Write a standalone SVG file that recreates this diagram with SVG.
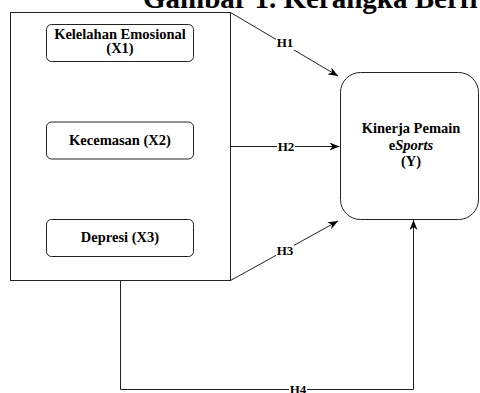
<svg xmlns="http://www.w3.org/2000/svg" width="480" height="393" viewBox="0 0 480 393">
<defs>
<style>
text{font-family:'Liberation Serif','Times New Roman',serif;font-weight:bold;fill:#000}
.t{text-anchor:middle}
.n{font-size:14.5px}
.lb{font-size:13px}
.box{fill:#fff;stroke:#222;stroke-width:1}
.edge{fill:none;stroke:#222;stroke-width:1}
.bg{fill:#fff}
</style>
<marker id="arr" viewBox="0 0 10 8" refX="10" refY="4" markerWidth="10" markerHeight="8" markerUnits="userSpaceOnUse" orient="auto">
<path d="M0,0 L10,4 L0,8 L3,4 z" fill="#000"/>
</marker>
</defs>
<rect width="480" height="393" fill="#fff"/>
<text x="143" y="7.5" font-family="Liberation Serif, Times New Roman, serif" font-weight="bold" font-size="29">Gambar 1. Kerangka Berfi</text>

<g id="group-x">
<rect class="box" x="10.5" y="12.5" width="220" height="268"/>
</g>
<g id="x1" font-family="Liberation Serif, serif">
<rect class="box" x="46.5" y="24.5" width="147" height="37" rx="5"/>
<text class="t n" x="120" y="38.5">Kelelahan Emosional</text>
<text class="t n" x="120" y="53">(X1)</text>
</g>
<g id="x2" font-family="Liberation Serif, serif">
<rect class="box" x="46.5" y="122" width="147" height="37" rx="5"/>
<text class="t n" x="120" y="145">Kecemasan (X2)</text>
</g>
<g id="x3" font-family="Liberation Serif, serif">
<rect class="box" x="46.5" y="219.5" width="147" height="37" rx="5"/>
<text class="t n" x="120" y="242">Depresi (X3)</text>
</g>
<g id="y" font-family="Liberation Serif, serif">
<rect class="box" x="340.5" y="72.5" width="138" height="147" rx="20"/>
<text class="t n" x="411" y="133">Kinerja Pemain</text>
<text class="t n" x="411" y="150">e<tspan font-style="italic">Sports</tspan></text>
<text class="t n" x="411" y="166">(Y)</text>
</g>

<g id="connectors" font-family="Liberation Serif, serif">
<path class="edge" d="M230.5,12.5 L338,76" marker-end="url(#arr)"/>
<path class="edge" d="M230.5,146.5 L339.5,146.5" marker-end="url(#arr)"/>
<path class="edge" d="M230.5,280.5 L338,221" marker-end="url(#arr)"/>
<path class="edge" d="M120.5,280.5 L120.5,389.5 L413.5,389.5 L413.5,220" marker-end="url(#arr)"/>
<rect class="bg" x="276" y="37" width="18" height="13"/>
<text class="t lb" x="285" y="47">H1</text>
<rect class="bg" x="277" y="140" width="18" height="13"/>
<text class="t lb" x="286" y="151">H2</text>
<rect class="bg" x="276" y="244" width="18" height="13"/>
<text class="t lb" x="285" y="255">H3</text>
<rect class="bg" x="289" y="384" width="18" height="13"/>
<text class="t lb" x="298" y="394">H4</text>
</g>
</svg>
